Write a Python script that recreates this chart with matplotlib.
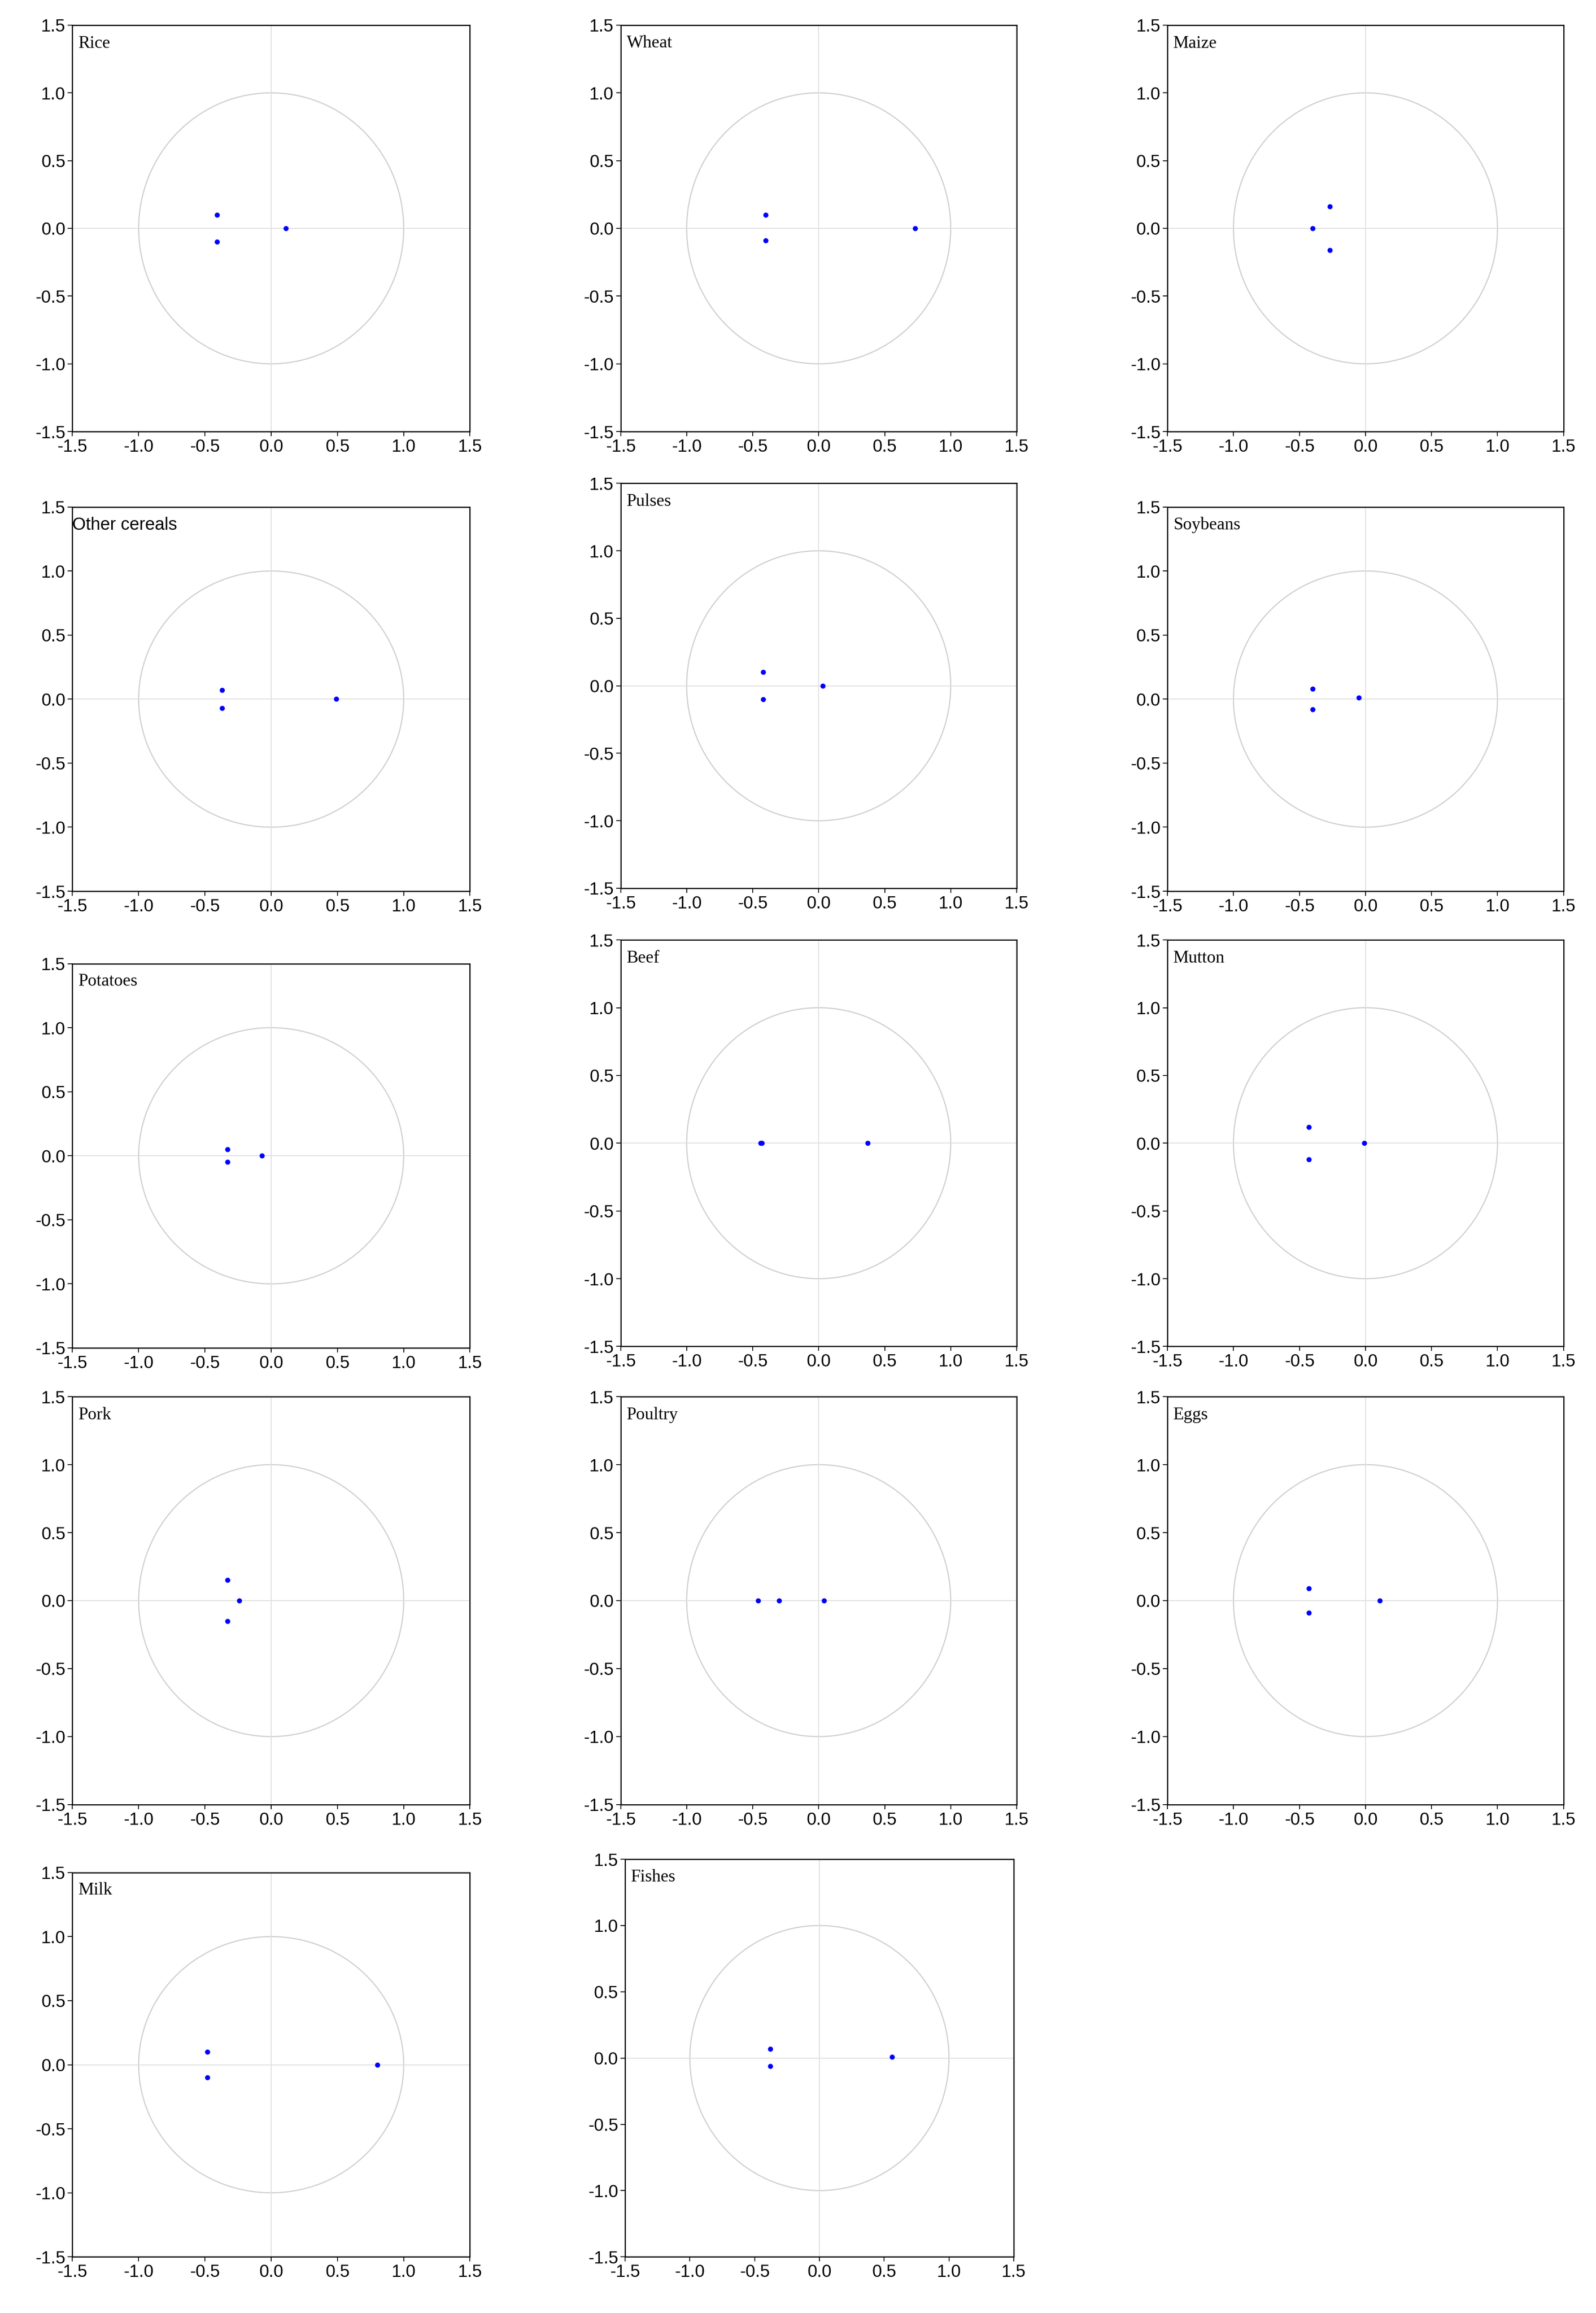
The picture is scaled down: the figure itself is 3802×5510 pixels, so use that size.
import numpy as np
import matplotlib
matplotlib.use("Agg")
import matplotlib.pyplot as plt

W, H = 1080.0, 1565.0  # layout measured on a scaled view

names = ["Rice", "Wheat", "Maize", "Other cereals", "Pulses", "Soybeans",
         "Potatoes", "Beef", "Mutton", "Pork", "Poultry", "Eggs", "Milk", "Fishes"]
re_parts = [
    [-0.41, -0.41, 0.11], [-0.40, -0.40, 0.73], [-0.27, -0.27, -0.40],
    [-0.37, -0.37, 0.49], [-0.42, -0.42, 0.03], [-0.40, -0.40, -0.05],
    [-0.33, -0.33, -0.07], [-0.44, -0.43, 0.37], [-0.43, -0.43, -0.01],
    [-0.33, -0.33, -0.24], [-0.46, -0.30, 0.04], [-0.43, -0.43, 0.11],
    [-0.48, -0.48, 0.80], [-0.38, -0.38, 0.56],
]
im_parts = [
    [0.10, -0.10, 0.0], [0.10, -0.09, 0.0], [0.16, -0.16, 0.0],
    [0.07, -0.07, 0.0], [0.10, -0.10, 0.0], [0.08, -0.08, 0.01],
    [0.05, -0.05, 0.0], [0.0, 0.0, 0.0], [0.12, -0.12, 0.0],
    [0.15, -0.15, 0.0], [0.0, 0.0, 0.0], [0.09, -0.09, 0.0],
    [0.10, -0.10, 0.0], [0.07, -0.06, 0.01],
]
# panel boxes (x1, y1, x2, y2) in the scaled view
boxes = [
    (49, 17, 318, 292), (420, 17, 688, 292), (790, 17, 1058, 292),
    (49, 343, 318, 603), (420, 327, 688, 601), (790, 343, 1058, 603),
    (49, 652, 318, 912), (420, 636, 688, 911), (790, 636, 1058, 911),
    (49, 945, 318, 1221), (420, 945, 688, 1221), (790, 945, 1058, 1221),
    (49, 1267, 318, 1527), (423, 1258, 686, 1527),
]
ticks = [-1.5, -1.0, -0.5, 0.0, 0.5, 1.0, 1.5]

fig = plt.figure(figsize=(38.02, 55.10), dpi=100)
theta = np.linspace(0, 2 * np.pi, 400)
for name, xs, ys, (x1, y1, x2, y2) in zip(names, re_parts, im_parts, boxes):
    ax = fig.add_axes([x1 / W, 1 - y2 / H, (x2 - x1) / W, (y2 - y1) / H])
    ax.plot(np.cos(theta), np.sin(theta), color="#d0d0d0", lw=2)
    ax.axhline(0, color="#dedede", lw=1.5)
    ax.axvline(0, color="#dedede", lw=1.5)
    ax.scatter(xs, ys, s=60, color="#0000ff", zorder=3)
    ax.set_xlim(-1.5, 1.5)
    ax.set_ylim(-1.5, 1.5)
    ax.set_xticks(ticks)
    ax.set_yticks(ticks)
    ax.set_xticklabels([f"{t:.1f}" for t in ticks])
    ax.set_yticklabels([f"{t:.1f}" for t in ticks])
    ax.tick_params(labelsize=30, length=8, width=1.5, pad=4)
    for lab in ax.get_xticklabels() + ax.get_yticklabels():
        lab.set_family("Liberation Sans")
    for sp in ax.spines.values():
        sp.set_linewidth(2)
    fam = "Liberation Sans" if name == "Other cereals" else "Liberation Serif"
    ax.text(0.0 if name == "Other cereals" else 0.015, 0.975, name,
            transform=ax.transAxes, ha="left", va="top", fontsize=30, family=fam)

fig.savefig("out.png", dpi=100)
